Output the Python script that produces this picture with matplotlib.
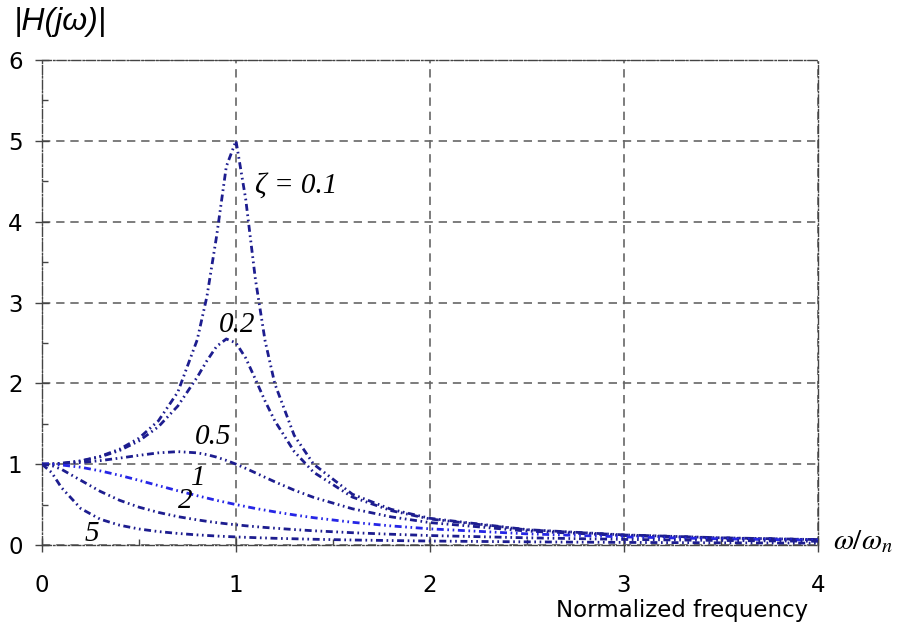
import matplotlib.pyplot as plt
from matplotlib.ticker import MultipleLocator

# normalized frequency w/wn and |H(jw)| for each damping ratio
freq = [0, 0.05, 0.1, 0.2, 0.3, 0.4, 0.5, 0.6, 0.7, 0.8, 0.85, 0.9, 0.95, 1.0,
        1.05, 1.1, 1.15, 1.2, 1.3, 1.4, 1.6, 1.8, 2.0, 2.5, 3.0, 3.5, 4.0]

mag_z01 = [1.0, 1.003, 1.01, 1.041, 1.097, 1.185, 1.322, 1.536, 1.891, 2.538, 3.073,
           3.821, 4.682, 5.0, 4.279, 3.288, 2.525, 1.995, 1.356, 1.0, 0.628, 0.441,
           0.330, 0.190, 0.125, 0.089, 0.067]
mag_z02 = [1.0, 1.002, 1.009, 1.038, 1.090, 1.169, 1.288, 1.463, 1.719, 2.076, 2.279,
           2.457, 2.549, 2.5, 2.313, 2.051, 1.780, 1.536, 1.157, 0.900, 0.593, 0.425,
           0.322, 0.187, 0.124, 0.088, 0.066]
mag_z05 = [1.0, 1.001, 1.005, 1.020, 1.044, 1.075, 1.109, 1.140, 1.155, 1.140, 1.118,
           1.087, 1.047, 1.0, 0.948, 0.893, 0.837, 0.782, 0.679, 0.589, 0.448, 0.348,
           0.277, 0.172, 0.117, 0.085, 0.064]
mag_z1 = [1.0, 0.998, 0.990, 0.962, 0.917, 0.862, 0.800, 0.735, 0.671, 0.610, 0.581,
          0.552, 0.526, 0.5, 0.476, 0.452, 0.431, 0.410, 0.372, 0.338, 0.281, 0.236,
          0.200, 0.138, 0.100, 0.076, 0.059]
mag_z2 = [1.0, 0.983, 0.937, 0.800, 0.664, 0.553, 0.468, 0.403, 0.351, 0.311, 0.293,
          0.277, 0.263, 0.25, 0.238, 0.227, 0.217, 0.208, 0.191, 0.176, 0.152, 0.133,
          0.117, 0.089, 0.069, 0.056, 0.046]
mag_z5 = [1.0, 0.896, 0.711, 0.451, 0.319, 0.245, 0.198, 0.166, 0.143, 0.125, 0.118,
          0.111, 0.105, 0.1, 0.095, 0.091, 0.087, 0.083, 0.077, 0.071, 0.062, 0.055,
          0.049, 0.039, 0.032, 0.027, 0.023]

curves = [mag_z01, mag_z02, mag_z05, mag_z1, mag_z2, mag_z5]
colors = ["#1d1d8f", "#1d1d8f", "#1d1d8f", "#2626e6", "#1d1d8f", "#1d1d8f"]

labels = ["\u03b6 = 0.1", "0.2", "0.5", "1", "2", "5"]
label_pos = [(1.10, 4.45), (0.91, 2.72), (0.79, 1.34), (0.77, 0.83), (0.70, 0.54), (0.22, 0.13)]

fig = plt.figure(figsize=(8.98, 6.3), dpi=100)
ax = fig.add_axes([42 / 898, 85 / 630, 776 / 898, 485 / 630])

ddot = (0, (2.5, 1.3, 0.6, 1.3, 0.6, 1.3))
for mag, c in zip(curves, colors):
    ax.plot(freq, mag, color=c, lw=2.0, ls=ddot, zorder=3)

serif = ["Liberation Serif", "DejaVu Serif"]
for txt, (x, y) in zip(labels, label_pos):
    ax.text(x, y, txt, fontsize=21, style="italic", family=serif, va="center", ha="left")

ax.set_xlim(0, 4)
ax.set_ylim(0, 6)
ax.xaxis.set_major_locator(MultipleLocator(1))
ax.yaxis.set_major_locator(MultipleLocator(1))
ax.xaxis.set_minor_locator(MultipleLocator(0.5))
ax.yaxis.set_minor_locator(MultipleLocator(0.5))

ax.grid(True, which="major", ls=(0, (5, 3.5)), color="#666666", lw=1.2)
for s in ax.spines.values():
    s.set_linestyle("-.")
    s.set_color("#444444")
    s.set_linewidth(1.0)

ax.tick_params(which="major", direction="inout", length=10, width=1.0, color="#444444",
               labelsize=16.5)
ax.tick_params(axis="x", which="major", pad=16)
ax.tick_params(axis="y", which="major", pad=9)
ax.tick_params(which="minor", direction="in", length=4, width=1.0, color="#444444")

fig.text(14 / 898, 1 - 22 / 630, "|H(j\u03c9)|", fontsize=23, style="italic",
         family=["Liberation Sans", "DejaVu Sans"], va="center", ha="left")
fig.text(833 / 898, 1 - 541 / 630, r"$\omega/\omega_n$", fontsize=21, va="center", ha="left",
         math_fontfamily="stix")
fig.text(808 / 898, 1 - 610 / 630, "Normalized frequency", fontsize=16.5, va="center", ha="right")

fig.savefig("out.png", dpi=100)
